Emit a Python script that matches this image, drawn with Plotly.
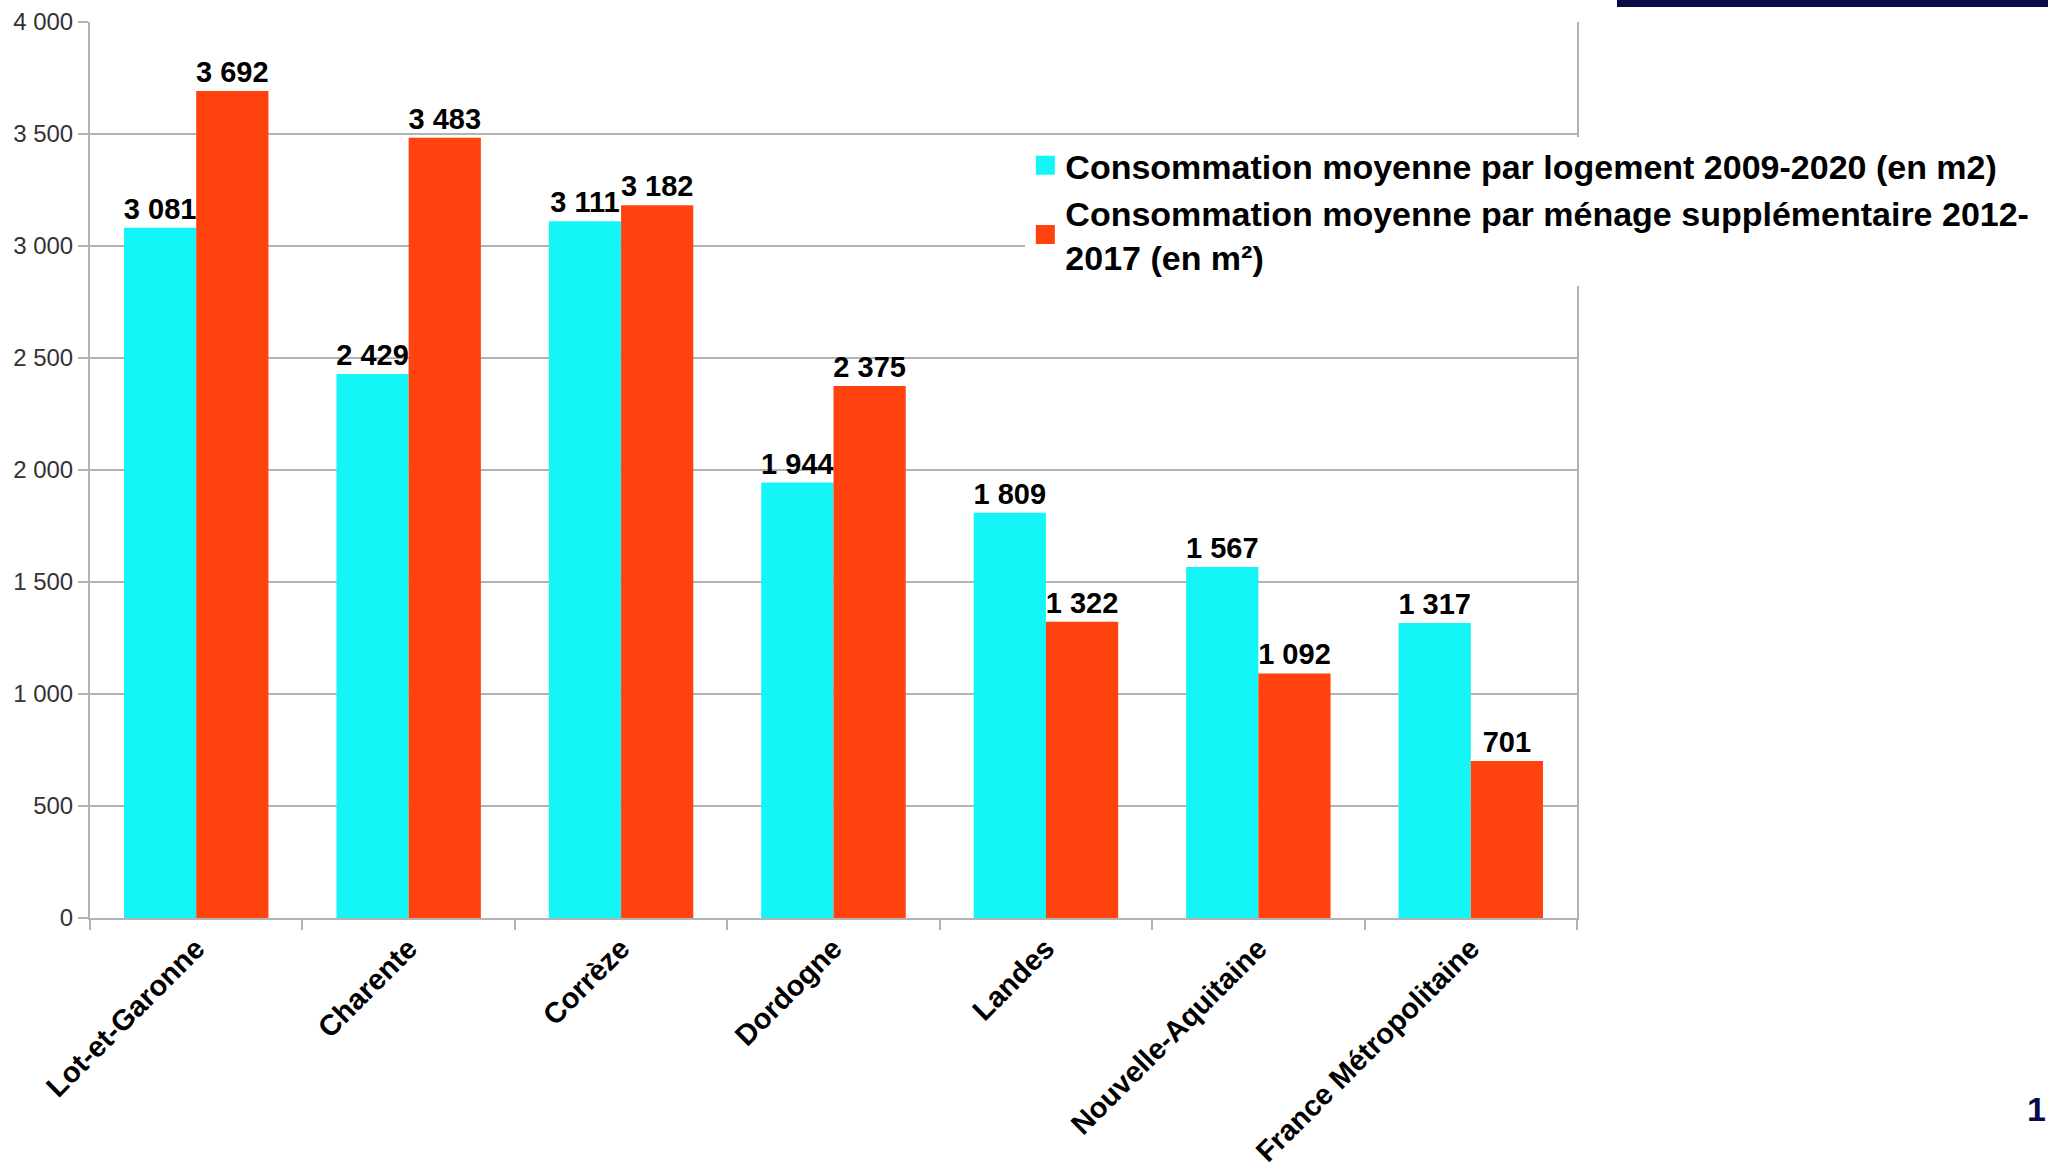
import plotly.graph_objects as go

categories = ["Lot-et-Garonne", "Charente", "Corrèze", "Dordogne", "Landes",
              "Nouvelle-Aquitaine", "France Métropolitaine"]
conso_logement = [3081, 2429, 3111, 1944, 1809, 1567, 1317]
conso_menage = [3692, 3483, 3182, 2375, 1322, 1092, 701]
series_names = [
    "Consommation moyenne par logement 2009-2020 (en m2)",
    "Consommation moyenne par ménage supplémentaire 2012-<br>2017 (en m²)",
]
y_ticks = [0, 500, 1000, 1500, 2000, 2500, 3000, 3500, 4000]


def fmt(v):
    return f"{v:,}".replace(",", " ")


FONT = "Liberation Sans, Arial, sans-serif"
CYAN = "#14F5F7"
RED = "#FF420E"

fig = go.Figure()
for name, vals, col in [(series_names[0], conso_logement, CYAN),
                        (series_names[1], conso_menage, RED)]:
    fig.add_trace(go.Bar(
        x=categories, y=vals, name=name, showlegend=False,
        marker=dict(color=col, line=dict(width=0)),
        text=[fmt(v) for v in vals], textposition="outside",
        textfont=dict(family=FONT, size=29, color="#000000", weight="bold"),
        constraintext="none", cliponaxis=False,
    ))
# legend entries (square swatches)
for name, col in [(series_names[0], CYAN), (series_names[1], RED)]:
    fig.add_trace(go.Scatter(
        x=[categories[0]], y=[None], mode="markers", name=name,
        marker=dict(symbol="square", size=16, color=col,
                    line=dict(color=col, width=3)),
        hoverinfo="skip",
    ))

fig.update_layout(
    width=2048, height=1170,
    margin=dict(l=90, r=471, t=22, b=252, autoexpand=False),
    paper_bgcolor="white", plot_bgcolor="white",
    barmode="group", bargap=0.32, bargroupgap=0,
    separators=", ",
    font=dict(family=FONT, color="#000000"),
    showlegend=True,
    legend=dict(
        x=0.629, y=0.872, xanchor="left", yanchor="top",
        bgcolor="white", borderwidth=0,
        font=dict(family=FONT, size=34, color="#000000", weight="bold"),
        tracegroupgap=4, itemsizing="trace",
    ),
    xaxis=dict(
        type="category", tickangle=-45, ticks="outside", tickson="boundaries",
        ticklen=10, tickcolor="#b3b3b3", tickwidth=2, automargin=False,
        showline=True, linecolor="#b3b3b3", linewidth=2,
        tickfont=dict(family=FONT, size=29, color="#000000", weight="bold"),
        showgrid=False,
    ),
    yaxis=dict(
        range=[0, 4000], tickvals=y_ticks, separatethousands=True,
        ticks="outside", ticklen=10, tickcolor="#b3b3b3", tickwidth=2,
        automargin=False,
        showline=True, mirror=True, linecolor="#b3b3b3", linewidth=2,
        showgrid=True, gridcolor="#b3b3b3", gridwidth=2,
        zeroline=False,
        tickfont=dict(family=FONT, size=24, color="#333333"),
    ),
)

# dark header band at top right and page number
fig.add_shape(type="rect", xref="paper", yref="paper",
              x0=(1617 - 90) / 1487, x1=(2100 - 90) / 1487,
              y0=(918 - 7) / 896, y1=(918 + 5) / 896,
              fillcolor="#0A0A48", line=dict(width=0), layer="above")
fig.add_annotation(xref="paper", yref="paper",
                   x=(2048 - 90) / 1487, y=(918 - 1109) / 896,
                   xanchor="right", yanchor="middle", showarrow=False,
                   text="<b>1</b>", font=dict(family=FONT, size=34, color="#0A0A48"))

fig.write_html("out.html",
               config={"displayModeBar": False},
               post_script="document.body.style.margin='0';document.body.style.overflow='hidden';")
